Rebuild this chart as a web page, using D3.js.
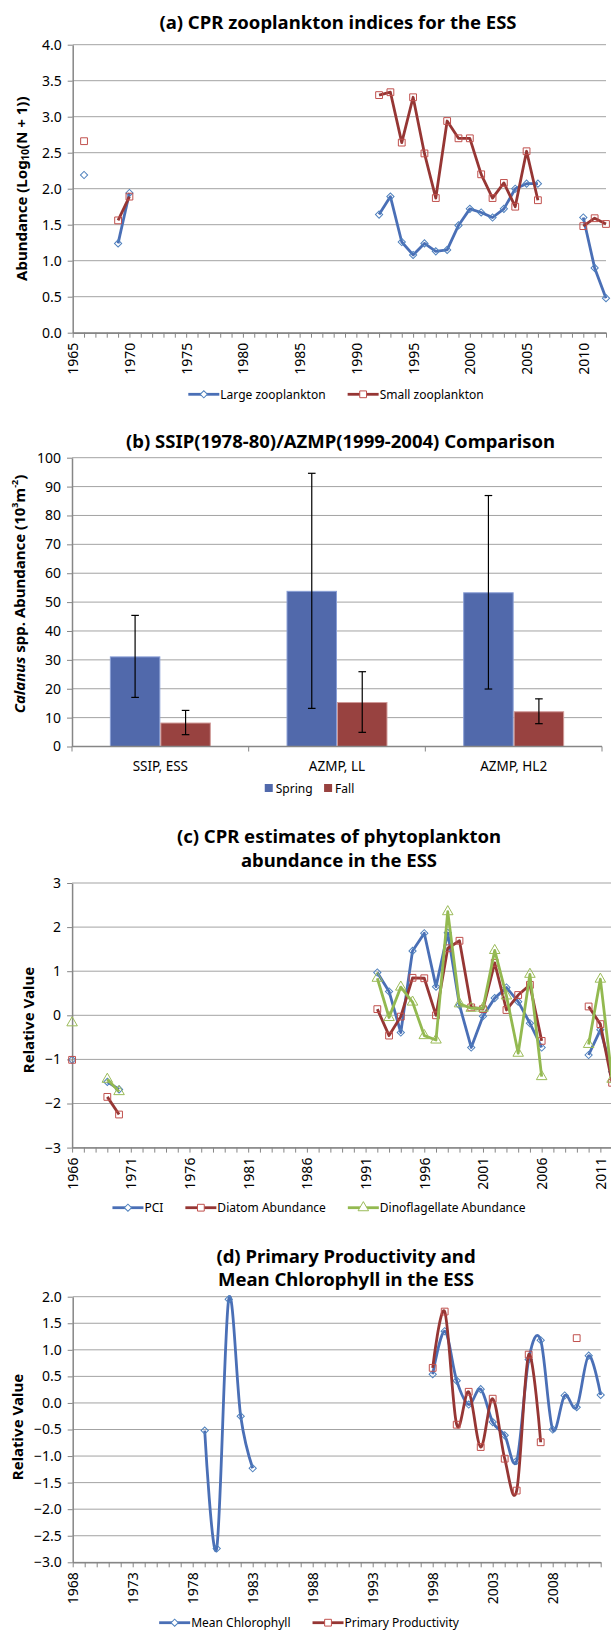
<!DOCTYPE html>
<html>
<head>
<meta charset="utf-8">
<script src="https://cdn.jsdelivr.net/npm/d3@7"></script>
<style>
  body { margin: 0; background: #fff; }
  svg { display: block; font-family: "Noto Sans", sans-serif; }
</style>
</head>
<body>
<div id="chart"></div>
<script>
/* Panel (a): CPR zooplankton indices. */
const zooYears = [1966, 1969, 1970, 1992, 1993, 1994, 1995, 1996, 1997, 1998, 1999, 2000, 2001, 2002, 2003, 2004, 2005, 2006, 2010, 2011, 2012]
const largeZoo = [2.19, 1.24, 1.94, 1.64, 1.89, 1.26, 1.08, 1.24, 1.13, 1.15, 1.49, 1.72, 1.67, 1.60, 1.72, 2.00, 2.07, 2.07, 1.60, 0.90, 0.48]
const smallZoo = [2.66, 1.56, 1.89, 3.30, 3.34, 2.64, 3.27, 2.49, 1.87, 2.94, 2.70, 2.70, 2.20, 1.87, 2.08, 1.75, 2.52, 1.84, 1.48, 1.59, 1.51]
const zooYTicks = [0, 0.5, 1, 1.5, 2, 2.5, 3, 3.5, 4]
const zooXLabels = [1965, 1970, 1975, 1980, 1985, 1990, 1995, 2000, 2005, 2010]

/* Panel (b): Calanus comparison. */
const calanusSites = ["SSIP, ESS", "AZMP, LL", "AZMP, HL2"]
const springMean = [31.2, 53.9, 53.4]
const springErr = [14.2, 40.7, 33.5]
const fallMean = [8.3, 15.4, 12.2]
const fallErr = [4.2, 10.5, 4.3]
const calanusYTicks = [0, 10, 20, 30, 40, 50, 60, 70, 80, 90, 100]

/* Panel (c): CPR phytoplankton. */
const phytoYears = [1966, 1969, 1970, 1992, 1993, 1994, 1995, 1996, 1997, 1998, 1999, 2000, 2001, 2002, 2003, 2004, 2005, 2006, 2010, 2011, 2012]
const pci = [-1.01, -1.51, -1.68, 0.97, 0.54, -0.39, 1.46, 1.86, 0.65, 1.87, 0.23, -0.73, -0.02, 0.39, 0.63, 0.31, -0.18, -0.73, -0.90, -0.33, -1.28]
const diatom = [-1.01, -1.85, -2.25, 0.14, -0.46, -0.03, 0.85, 0.84, 0.00, 1.52, 1.69, 0.18, 0.14, 1.19, 0.12, 0.46, 0.69, -0.58, 0.20, -0.20, -1.53]
const dino = [-0.17, -1.45, -1.73, 0.84, -0.05, 0.64, 0.30, -0.46, -0.56, 2.35, 0.26, 0.16, 0.16, 1.47, 0.44, -0.86, 0.93, -1.39, -0.66, 0.82, -1.45]
const phytoYTicks = [-3, -2, -1, 0, 1, 2, 3]
const phytoXLabels = [1966, 1971, 1976, 1981, 1986, 1991, 1996, 2001, 2006, 2011]

/* Panel (d): primary productivity and chlorophyll. */
const chlYears = [1979, 1980, 1981, 1982, 1983, 1998, 1999, 2000, 2001, 2002, 2003, 2004, 2005, 2006, 2007, 2008, 2009, 2010, 2011, 2012]
const chl = [-0.52, -2.74, 1.95, -0.25, -1.23, 0.54, 1.35, 0.42, -0.03, 0.26, -0.36, -0.61, -1.09, 0.82, 1.18, -0.50, 0.14, -0.08, 0.89, 0.15]
const ppYears = [1998, 1999, 2000, 2001, 2002, 2003, 2004, 2005, 2006, 2007, 2010]
const pp = [0.66, 1.72, -0.41, 0.21, -0.83, 0.08, -1.05, -1.65, 0.91, -0.74, 1.22]
const prodYTicks = [-3, -2.5, -2, -1.5, -1, -0.5, 0, 0.5, 1, 1.5, 2]
const prodXLabels = [1968, 1973, 1978, 1983, 1988, 1993, 1998, 2003, 2008]

/* Colours. */
const blue = { line: "#4a6fb6", mark: "#4f81bd" }
const red = { line: "#963634", mark: "#c0504d" }
const green = { line: "#93b950", mark: "#9bbb59" }
const springColor = { fill: "#5169ab", edge: "#8a9fd6" }
const fallColor = { fill: "#984240", edge: "#d09a98" }
const gridColor = "#a3a3a3"
const axisColor = "#868686"

/* Create svg-element. */
const width = 611
const height = 1631
const svg = d3.select("#chart")
  .append("svg")
  .attr("width", width)
  .attr("height", height)

svg.append("rect").attr("width", width).attr("height", height).attr("fill", "#fff")

/* Marker shapes. */
const markers = {
  diamond: { d: d3.symbol(d3.symbolSquare, 26)(), rot: 45 },
  square: { d: d3.symbol(d3.symbolSquare, 46)(), rot: 0 },
  triangle: { d: d3.symbol(d3.symbolTriangle, 48)(), rot: 0 }
}

/* Split a series into runs of consecutive years. */
const toRuns = (years, values) => {
  const runs = []
  let run = []
  years.forEach((yr, i) => {
    if (run.length && yr - run[run.length - 1].year > 1) {
      runs.push(run)
      run = []
    }
    run.push({ year: yr, value: values[i] })
  })
  if (run.length) runs.push(run)
  return runs
}

/* Draw a title, one or more lines. */
const title = (lines, cx, y0) => {
  lines.forEach((t, i) => {
    svg.append("text")
      .attr("x", cx)
      .attr("y", y0 + i * 23.5)
      .attr("text-anchor", "middle")
      .attr("dominant-baseline", "central")
      .attr("font-size", 18.5)
      .attr("font-weight", "bold")
      .text(t)
  })
}

/* Rotated y-axis title. */
const yTitle = (cx, cy, build) => {
  const t = svg.append("text")
    .attr("transform", `translate(${cx},${cy}) rotate(-90)`)
    .attr("text-anchor", "middle")
    .attr("dominant-baseline", "central")
    .attr("font-size", 15)
    .attr("font-weight", "bold")
  build(t)
}

/* Draw the y-axis with gridlines. */
const drawYAxis = (y, ticks, left, right, fmt) => {
  svg.append("g").selectAll("line")
    .data(ticks)
    .join("line")
    .attr("x1", left)
    .attr("x2", right)
    .attr("y1", d => y(d))
    .attr("y2", d => y(d))
    .attr("stroke", gridColor)
    .attr("stroke-width", 1)

  const g = svg.append("g")
    .attr("transform", `translate(${left},0)`)
    .call(d3.axisLeft(y).tickValues(ticks).tickSize(5).tickSizeOuter(0).tickPadding(6).tickFormat(fmt))
  g.select(".domain").attr("stroke", axisColor).attr("stroke-width", 1.5)
  g.selectAll(".tick line").attr("stroke", axisColor)
  g.selectAll("text").attr("font-size", 14).attr("fill", "#000").attr("font-family", "Noto Sans")
}

/* Draw a year x-axis with rotated labels. */
const drawXAxis = (x, bottom, minor, labels) => {
  const g = svg.append("g")
    .attr("transform", `translate(0,${bottom})`)
    .call(d3.axisBottom(x).tickValues(minor).tickSize(5).tickSizeOuter(0).tickFormat(""))
  g.select(".domain").attr("stroke", axisColor).attr("stroke-width", 1.5)
  g.selectAll(".tick line").attr("stroke", axisColor)

  svg.append("g")
    .selectAll("text")
    .data(labels)
    .join("text")
    .attr("transform", d => `translate(${x(d)},${bottom + 10}) rotate(-90)`)
    .attr("text-anchor", "end")
    .attr("dominant-baseline", "central")
    .attr("font-size", 14)
    .text(d => d)
}

/* Draw one series: line runs plus markers. */
const drawSeries = (x, y, years, values, color, marker, curve) => {
  const line = d3.line()
    .x(d => x(d.year))
    .y(d => y(d.value))
    .curve(curve)

  const runs = toRuns(years, values)
  svg.append("g").selectAll("path")
    .data(runs.filter(r => r.length > 1))
    .join("path")
    .attr("d", line)
    .attr("fill", "none")
    .attr("stroke", color.line)
    .attr("stroke-width", 2.8)
    .attr("stroke-linejoin", "round")

  svg.append("g").selectAll("path")
    .data(years.map((yr, i) => ({ year: yr, value: values[i] })))
    .join("path")
    .attr("d", markers[marker].d)
    .attr("transform", d => `translate(${x(d.year)},${y(d.value)}) rotate(${markers[marker].rot})`)
    .attr("fill", "none")
    .attr("stroke", color.mark)
    .attr("stroke-width", 1)
}

/* Draw a legend, centred on cx. */
const legend = (items, cx, cy, gap) => {
  const g = svg.append("g")
  let pos = 0
  items.forEach(item => {
    const it = g.append("g").attr("transform", `translate(${pos},0)`)
    let tx
    if (item.marker) {
      it.append("line").attr("x1", 0).attr("x2", 31)
        .attr("stroke", item.color.line).attr("stroke-width", 2.8)
      it.append("path").attr("d", markers[item.marker].d)
        .attr("transform", `translate(15.5,0) rotate(${markers[item.marker].rot})`)
        .attr("fill", "#fff").attr("stroke", item.color.mark)
      tx = 32
    } else {
      it.append("rect").attr("x", 0).attr("y", -4).attr("width", 8).attr("height", 8)
        .attr("fill", item.color)
      tx = 11
    }
    const t = it.append("text")
      .attr("x", tx)
      .attr("dominant-baseline", "central")
      .attr("font-size", 12)
      .text(item.label)
    pos += tx + t.node().getComputedTextLength() + gap
  })
  const w = pos - gap
  g.attr("transform", `translate(${cx - w / 2},${cy})`)
}

/* ---------- Panel (a) ---------- */
const xa = d3.scaleLinear().domain([1965, 2012]).range([72.7, 606])
const ya = d3.scaleLinear().domain([0, 4]).range([332.7, 44.7])
title(["(a) CPR zooplankton indices for the ESS"], 338, 21)
drawYAxis(ya, zooYTicks, 72.7, 606, d3.format(".1f"))
drawXAxis(xa, 332.7, d3.range(1965, 2013), zooXLabels)
drawSeries(xa, ya, zooYears, largeZoo, blue, "diamond", d3.curveLinear)
drawSeries(xa, ya, zooYears, smallZoo, red, "square", d3.curveLinear)
yTitle(21, 188.7, t => {
  t.append("tspan").text("Abundance (Log")
  t.append("tspan").attr("font-size", 10).attr("dy", 4).text("10")
  t.append("tspan").attr("dy", -4).text("(N + 1))")
})
legend([
  { label: "Large zooplankton", color: blue, marker: "diamond" },
  { label: "Small zooplankton", color: red, marker: "square" }
], 336, 394.3, 22)

/* ---------- Panel (b) ---------- */
const xb = d3.scaleBand().domain(calanusSites).range([72, 602])
const yb = d3.scaleLinear().domain([0, 100]).range([746.5, 457.7])
const barW = xb.bandwidth() / 3.5
title(["(b) SSIP(1978-80)/AZMP(1999-2004) Comparison"], 340.6, 440)
drawYAxis(yb, calanusYTicks, 72, 602, d3.format("d"))

const barData = calanusSites.map((s, i) => [
  { site: s, mean: springMean[i], err: springErr[i], off: -barW, color: springColor },
  { site: s, mean: fallMean[i], err: fallErr[i], off: 0, color: fallColor }
]).flat()

svg.append("g").selectAll("rect")
  .data(barData)
  .join("rect")
  .attr("x", d => xb(d.site) + xb.bandwidth() / 2 + d.off + 0.5)
  .attr("y", d => yb(d.mean) + 0.5)
  .attr("width", barW - 1)
  .attr("height", d => yb(0) - yb(d.mean) - 0.5)
  .attr("fill", d => d.color.fill)
  .attr("stroke", d => d.color.edge)
  .attr("stroke-width", 1)

const errG = svg.append("g").attr("stroke", "#000").attr("stroke-width", 1.2)
barData.forEach(d => {
  const cx = xb(d.site) + xb.bandwidth() / 2 + d.off + barW / 2
  errG.append("line").attr("x1", cx).attr("x2", cx)
    .attr("y1", yb(d.mean + d.err)).attr("y2", yb(d.mean - d.err))
  ;[d.mean + d.err, d.mean - d.err].forEach(v => {
    errG.append("line").attr("x1", cx - 3.8).attr("x2", cx + 3.8)
      .attr("y1", yb(v)).attr("y2", yb(v))
  })
})

const xbAxis = svg.append("g").attr("transform", `translate(0,${yb(0)})`)
xbAxis.append("line").attr("x1", 72).attr("x2", 602)
  .attr("stroke", axisColor).attr("stroke-width", 1.5)
xbAxis.selectAll(".sep")
  .data(calanusSites.map(s => xb(s)).concat([xb(calanusSites[2]) + xb.bandwidth()]))
  .join("line")
  .attr("x1", d => d).attr("x2", d => d)
  .attr("y1", 0).attr("y2", 5)
  .attr("stroke", axisColor)
xbAxis.selectAll("text")
  .data(calanusSites)
  .join("text")
  .attr("x", d => xb(d) + xb.bandwidth() / 2)
  .attr("y", 19)
  .attr("text-anchor", "middle")
  .attr("dominant-baseline", "central")
  .attr("font-size", 13.5)
  .text(d => d)

yTitle(18.5, 594, t => {
  t.append("tspan").attr("font-style", "italic").text("Calanus")
  t.append("tspan").text(" spp. Abundance (10")
  t.append("tspan").attr("font-size", 9).attr("dy", -5).text("3")
  t.append("tspan").attr("dy", 5).text("m")
  t.append("tspan").attr("font-size", 9).attr("dy", -5).text("-2")
  t.append("tspan").attr("dy", 5).text(")")
})
legend([
  { label: "Spring", color: springColor.fill },
  { label: "Fall", color: fallColor.fill }
], 309.5, 788, 11.5)

/* ---------- Panel (c) ---------- */
const xc = d3.scaleLinear().domain([1966, 2012]).range([72.1, 612.1])
const yc = d3.scaleLinear().domain([-3, 3]).range([1147.6, 883])
title(["(c) CPR estimates of phytoplankton", "abundance in the ESS"], 339, 835.5)
drawYAxis(yc, phytoYTicks, 72.1, 612.1, d3.format("d"))
drawXAxis(xc, 1147.6, d3.range(1966, 2013), phytoXLabels)
drawSeries(xc, yc, phytoYears, pci, blue, "diamond", d3.curveLinear)
drawSeries(xc, yc, phytoYears, diatom, red, "square", d3.curveLinear)
drawSeries(xc, yc, phytoYears, dino, green, "triangle", d3.curveLinear)
yTitle(28, 1020, t => t.text("Relative Value"))
legend([
  { label: "PCI", color: blue, marker: "diamond" },
  { label: "Diatom Abundance", color: red, marker: "square" },
  { label: "Dinoflagellate Abundance", color: green, marker: "triangle" }
], 319, 1207.7, 22)

/* ---------- Panel (d) ---------- */
const xd = d3.scaleLinear().domain([1968, 2012]).range([72.7, 600.7])
const yd = d3.scaleLinear().domain([-3, 2]).range([1562.3, 1296.7])
title(["(d) Primary Productivity and", "Mean Chlorophyll in the ESS"], 346, 1255)
drawYAxis(yd, prodYTicks, 72.7, 600.7, d3.format(".1f"))
drawXAxis(xd, 1562.3, d3.range(1968, 2013), prodXLabels)
drawSeries(xd, yd, chlYears, chl, blue, "diamond", d3.curveCardinal)
drawSeries(xd, yd, ppYears, pp, red, "square", d3.curveCardinal)
yTitle(17, 1427, t => t.text("Relative Value"))
legend([
  { label: "Mean Chlorophyll", color: blue, marker: "diamond" },
  { label: "Primary Productivity", color: red, marker: "square" }
], 309, 1622.7, 22)
</script>
</body>
</html>
